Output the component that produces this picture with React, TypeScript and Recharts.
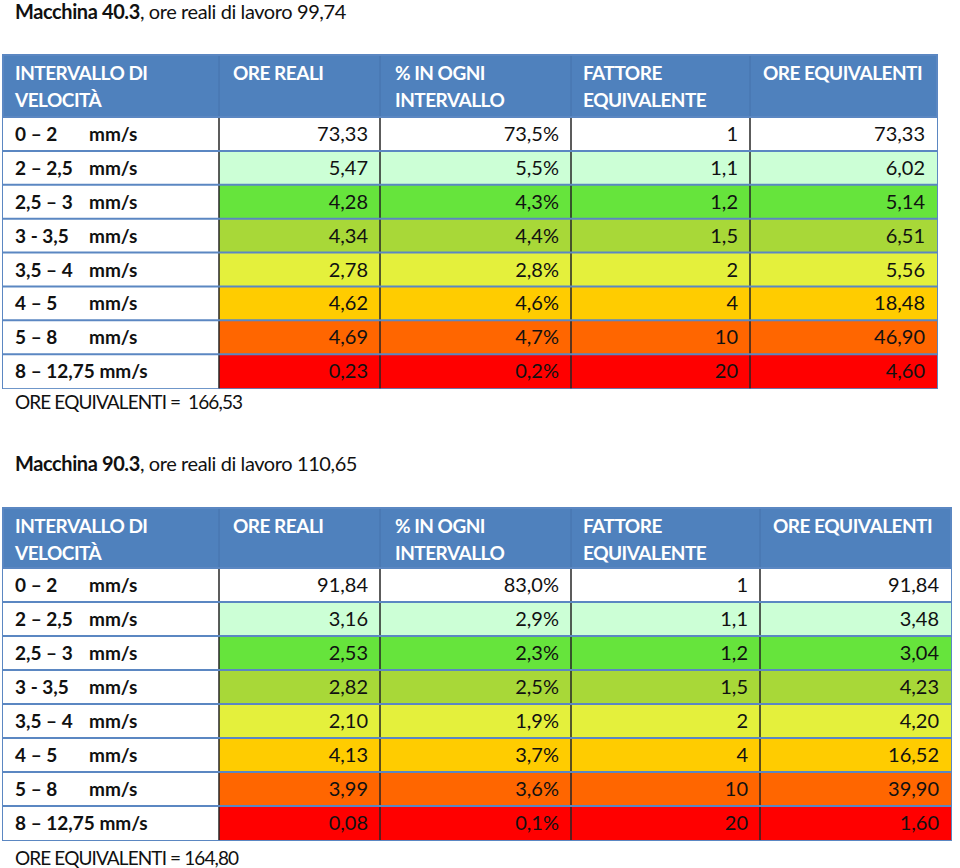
import React from 'react';
import { BarChart, Bar, XAxis, YAxis, LabelList, Customized } from 'recharts';

// ---------- data ----------
const ranges = ['0 – 2', '2 – 2,5', '2,5 – 3', '3 - 3,5', '3,5 – 4', '4 – 5', '5 – 8', '8 – 12,75'];
const unit = 'mm/s';
const headerLine1 = ['INTERVALLO DI', 'ORE REALI', '% IN OGNI', 'FATTORE', 'ORE EQUIVALENTI'];
const headerLine2 = ['VELOCITÀ', '', 'INTERVALLO', 'EQUIVALENTE', ''];
const fattore = [1, 1.1, 1.2, 1.5, 2, 4, 10, 20];

const machine1 = 'Macchina 40.3';
const hours1 = 99.74;
const oreReali1 = [73.33, 5.47, 4.28, 4.34, 2.78, 4.62, 4.69, 0.23];
const percent1 = [73.5, 5.5, 4.3, 4.4, 2.8, 4.6, 4.7, 0.2];
const oreEq1 = [73.33, 6.02, 5.14, 6.51, 5.56, 18.48, 46.9, 4.6];
const total1 = 166.53;

const machine2 = 'Macchina 90.3';
const hours2 = 110.65;
const oreReali2 = [91.84, 3.16, 2.53, 2.82, 2.1, 4.13, 3.99, 0.08];
const percent2 = [83.0, 2.9, 2.3, 2.5, 1.9, 3.7, 3.6, 0.1];
const oreEq2 = [91.84, 3.48, 3.04, 4.23, 4.2, 16.52, 39.9, 1.6];
const total2 = 164.8;

// ---------- styles ----------
const rowColors = ['#FFFFFF', '#CCFFD6', '#66E43C', '#A8D838', '#E4F03C', '#FFCC00', '#FF6600', '#FF0000'];
const HEADER_BLUE = '#4F81BD';
const FONT = 'Lato, "Open Sans", sans-serif';

const fmt2 = (v: number) => v.toFixed(2).replace('.', ',');
const fmtPct = (v: number) => v.toFixed(1).replace('.', ',') + '%';
const fmtF = (v: number) => String(v).replace('.', ',');

function buildRows(oreReali: number[], perc: number[], oreEq: number[]) {
  return ranges.map((r, i) => ({
    idx: i,
    range: r,
    oreReali: oreReali[i],
    perc: perc[i],
    fattore: fattore[i],
    oreEq: oreEq[i],
  }));
}

type TableProps = {
  machine: string;
  hours: number;
  total: number;
  totalSep: string;
  rows: any[];
  cols: number[];
  H: number;
  titleY: number;
  headerTop: number;
  headerBottom: number;
  rowsBottom: number;
  footerY: number;
};

function SpeedTable(p: TableProps) {
  const { cols } = p;
  const bandOf = (props: any) => {
    const vb = props.viewBox && props.viewBox.height != null ? props.viewBox : props;
    return { y: Number(vb.y), h: Number(vb.height) };
  };

  const RowShape = (props: any) => {
    const { y, height, payload } = props;
    const i = payload && payload.idx != null ? payload.idx : props.index;
    return (
      <g>
        <rect x={cols[0]} y={y} width={cols[1] - cols[0]} height={height} fill="#fff" />
        <rect x={cols[1]} y={y} width={cols[5] - cols[1]} height={height} fill={rowColors[i]} />
        {[1, 2, 3, 4].map((k) => (
          <line key={k} x1={cols[k]} x2={cols[k]} y1={y} y2={y + height} stroke="#262626" strokeWidth={1.5} />
        ))}
        <line x1={cols[0]} x2={cols[5]} y1={y} y2={y} stroke="#5B87C2" strokeWidth={2} />
      </g>
    );
  };

  const numLabel = (colIdx: number, fmt: (v: number) => string) => (props: any) => {
    const { y, h } = bandOf(props);
    return (
      <text x={cols[colIdx + 1] - 12} y={y + h / 2 + 7} textAnchor="end" fontFamily={FONT} fontSize={20} fill="#111">
        {fmt(Number(props.value))}
      </text>
    );
  };

  const rangeLabel = (props: any) => {
    const { y, h } = bandOf(props);
    const v = String(props.value);
    const last = v === ranges[ranges.length - 1];
    const by = y + h / 2 + 7;
    return (
      <g fontFamily={FONT} fontSize={19} fontWeight={700} fill="#111">
        {last ? (
          <text x={15} y={by}>{v + ' ' + unit}</text>
        ) : (
          <>
            <text x={15} y={by}>{v}</text>
            <text x={89} y={by}>{unit}</text>
          </>
        )}
      </g>
    );
  };

  const headerOffsets = [12, 14, 15, 12, 13];

  const Decor = () => (
    <g fontFamily={FONT}>
      <text x={15} y={p.titleY} fontSize={20} fill="#111" letterSpacing={-0.4}>
        <tspan fontWeight={700}>{p.machine}</tspan>
        <tspan>{', ore reali di lavoro ' + fmt2(p.hours)}</tspan>
      </text>
      <rect x={cols[0]} y={p.headerTop} width={cols[5] - cols[0]} height={p.headerBottom - p.headerTop} fill={HEADER_BLUE} />
      {[1, 2, 3, 4].map((k) => (
        <line key={k} x1={cols[k]} x2={cols[k]} y1={p.headerTop} y2={p.headerBottom} stroke="#4673AC" strokeWidth={1} />
      ))}
      {headerLine1.map((t, k) => (
        <text key={'a' + k} x={cols[k] + headerOffsets[k]} y={p.headerTop + 25} fontSize={19} fontWeight={700} fill="#fff" letterSpacing={-0.5}>
          {t}
        </text>
      ))}
      {headerLine2.map((t, k) => (
        <text key={'b' + k} x={cols[k] + headerOffsets[k]} y={p.headerTop + 52} fontSize={19} fontWeight={700} fill="#fff" letterSpacing={-0.5}>
          {t}
        </text>
      ))}
      <rect x={cols[0]} y={p.headerTop} width={cols[5] - cols[0]} height={p.rowsBottom - p.headerTop} fill="none" stroke="#5B87C2" strokeWidth={2} />
      <text x={15} y={p.footerY} fontSize={19} fill="#111" letterSpacing={-0.9} style={{ whiteSpace: 'pre' }}>
        {'ORE EQUIVALENTI =' + p.totalSep + fmt2(p.total)}
      </text>
    </g>
  );

  return (
    <BarChart
      width={960}
      height={p.H}
      data={p.rows}
      layout="vertical"
      barCategoryGap={0}
      margin={{ top: p.headerBottom, bottom: p.H - p.rowsBottom, left: cols[0], right: 960 - cols[5] }}
      style={{ overflow: 'visible' }}
    >
      <XAxis type="number" hide domain={[0, 'dataMax']} />
      <YAxis type="category" dataKey="range" hide width={0} />
      <Bar dataKey="oreReali" shape={RowShape} isAnimationActive={false}>
        <LabelList dataKey="range" content={rangeLabel} />
        <LabelList dataKey="oreReali" content={numLabel(1, fmt2)} />
        <LabelList dataKey="perc" content={numLabel(2, fmtPct)} />
        <LabelList dataKey="fattore" content={numLabel(3, fmtF)} />
        <LabelList dataKey="oreEq" content={numLabel(4, fmt2)} />
      </Bar>
      <Customized component={Decor} />
    </BarChart>
  );
}

export default function App() {
  const rows1 = buildRows(oreReali1, percent1, oreEq1);
  const rows2 = buildRows(oreReali2, percent2, oreEq2);
  return (
    <div style={{ position: 'absolute', left: 0, top: 0, width: 960, height: 868, background: '#fff', overflow: 'hidden' }}>
      <div style={{ position: 'absolute', left: 0, top: 0 }}>
        <SpeedTable
          machine={machine1}
          hours={hours1}
          total={total1}
          totalSep="  "
          rows={rows1}
          cols={[3, 219, 380, 571, 750, 937]}
          H={434}
          titleY={19}
          headerTop={55}
          headerBottom={117}
          rowsBottom={388}
          footerY={409}
        />
      </div>
      <div style={{ position: 'absolute', left: 0, top: 434 }}>
        <SpeedTable
          machine={machine2}
          hours={hours2}
          total={total2}
          totalSep=" "
          rows={rows2}
          cols={[3, 219, 380, 571, 760, 951]}
          H={434}
          titleY={37}
          headerTop={74}
          headerBottom={134}
          rowsBottom={406}
          footerY={431}
        />
      </div>
    </div>
  );
}
